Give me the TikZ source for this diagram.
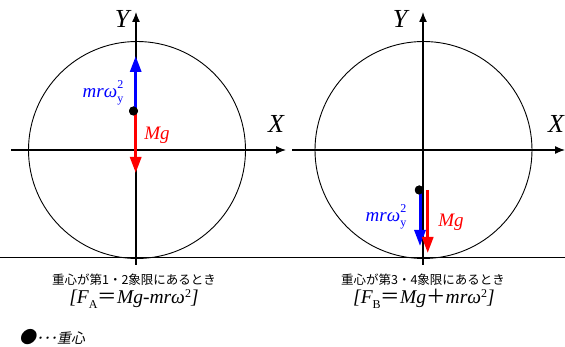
\documentclass[tikz,border=0pt]{standalone}
\usepackage{fontspec}
\newfontfamily\jpfont{Noto Sans CJK JP}
\newfontfamily\jpslant[FakeSlant=0.2]{Noto Sans CJK JP}
\newfontfamily\lblfont{Liberation Serif}
\usetikzlibrary{arrows.meta,positioning}
% upright super/subscript pair, stacked
\newcommand\stackidx[2]{\makebox[0pt][l]{\raisebox{0.45em}{\upshape\fontsize{12}{12}\selectfont #1}}\raisebox{-0.3em}{\upshape\fontsize{12}{12}\selectfont #2}}
\newcommand\supidx[1]{\raisebox{0.3em}{\upshape\fontsize{12}{12}\selectfont #1}}
\newcommand\subidx[1]{\raisebox{-0.25em}{\upshape\fontsize{12}{12}\selectfont #1}}

\begin{document}
\begin{tikzpicture}[x=1pt,y=-1pt,>={Latex[length=10pt,width=8pt]}]
  \tikzset{
    axis/.style={line width=1.3pt,->},
    wheel/.style={line width=0.9pt},
    force/.style={line width=3pt,-{Triangle[length=16pt,width=11pt]}},
    cog/.style={circle,fill=black,inner sep=0pt,minimum size=9pt},
    axlabel/.style={font=\lblfont\itshape\fontsize{26}{26}\selectfont},
    flabel/.style={font=\lblfont\itshape\fontsize{19}{19}\selectfont},
    caption/.style={font=\jpfont\fontsize{12.5}{12.5}\selectfont,inner sep=1pt},
    formula/.style={font=\lblfont\itshape\fontsize{19.5}{19.5}\selectfont,inner sep=1pt},
  }
  \useasboundingbox (0,0) rectangle (565,347);
  % ground line
  \coordinate (g0) at (0,258);
  \coordinate (g1) at (565,258);
  \draw[line width=1pt] (g0) -- (g1);

  % left: centre of gravity in quadrant 1/2
  \coordinate (oA) at (137,150);
  \draw[wheel] (oA) circle[radius=108.5];
  \coordinate (xA0) at (11,150);
  \coordinate (xA1) at (286,150);
  \coordinate (yA0) at (136,265);
  \coordinate (yA1) at (136,12);
  \draw[axis] (xA0) -- (xA1);
  \draw[axis] (yA0) -- (yA1);
  \node[axlabel] (XA) at (276,124) {X};
  \node[axlabel] (YA) at (122,19) {Y};
  \coordinate (upA) at (135.7,56);
  \coordinate (dnA) at (135.7,173);
  \node[cog] (cA) at (133.5,111) {};
  \draw[force,blue] ([xshift=2.2pt]cA.center) -- (upA);
  \draw[force,red] ([xshift=2.2pt]cA.center) -- (dnA);
  \node[cog] at (cA) {};
  \node[flabel,blue] (mA) at (103,93) {mrω\stackidx{2}{y}};
  \node[flabel,red] (gA) at (157,135) {Mg};
  \node[caption] (capA) at (134,280) {重心が第1・2象限にあるとき};
  \node[formula] (fA) at (134,299) {[F\subidx{A}{\jpfont＝}Mg-mrω\supidx{2}]};

  % right: centre of gravity in quadrant 3/4
  \coordinate (oB) at (423.5,150);
  \draw[wheel] (oB) circle[radius=108.5];
  \coordinate (xB0) at (292,150);
  \coordinate (xB1) at (565,150);
  \coordinate (yB0) at (423,265);
  \coordinate (yB1) at (423,12);
  \draw[axis] (xB0) -- (xB1);
  \draw[axis] (yB0) -- (yB1);
  \node[axlabel] (XB) at (556,124) {X};
  \node[axlabel] (YB) at (400,19) {Y};
  \coordinate (dnB1) at (420,246);
  \coordinate (dnB2) at (427.7,253);
  \node[cog] (cB) at (419.3,190) {};
  \draw[force,blue] ([xshift=0.7pt]cB.center) -- (dnB1);
  \draw[force,red] ([xshift=8.4pt]cB.center) -- (dnB2);
  \node[cog] at (cB) {};
  \node[flabel,blue] (mB) at (386,217) {mrω\stackidx{2}{y}};
  \node[flabel,red] (gB) at (451,222) {Mg};
  \node[caption] (capB) at (423,280) {重心が第3・4象限にあるとき};
  \node[formula] (fB) at (424,299) {[F\subidx{B}{\jpfont＝}Mg{\jpfont＋}mrω\supidx{2}]};

  % legend
  \node[font=\jpslant\fontsize{14}{14}\selectfont,anchor=west,inner sep=0pt] (key) at (19,337) {{\fontsize{17}{17}\selectfont ●}･･･重心};
\end{tikzpicture}
\end{document}
